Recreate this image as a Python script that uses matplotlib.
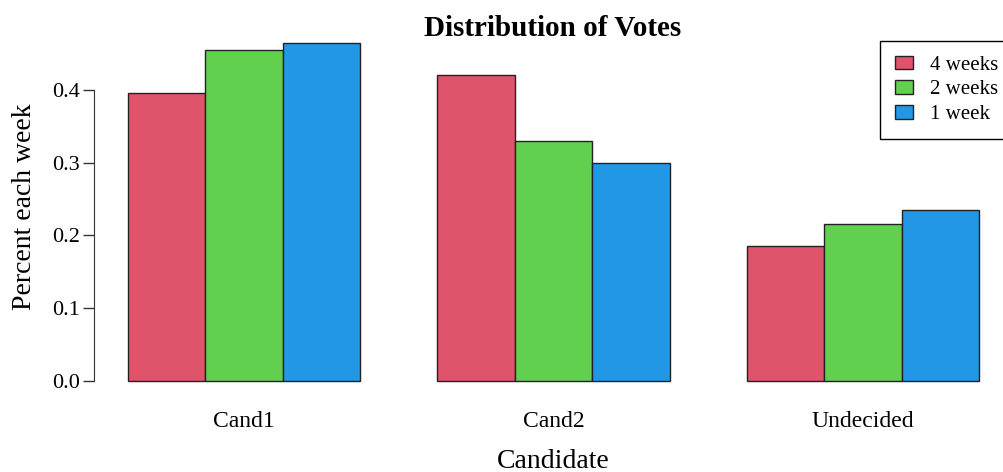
import numpy as np
import matplotlib
matplotlib.use("Agg")
import matplotlib.pyplot as plt

# data
candidates = ["Cand1", "Cand2", "Undecided"]
series_names = ["4 weeks", "2 weeks", "1 week"]
weeks4 = [0.395, 0.42, 0.185]
weeks2 = [0.455, 0.33, 0.215]
week1 = [0.465, 0.30, 0.235]
colors = ["#DF536B", "#61D04F", "#2297E6"]

plt.rcParams["font.family"] = ["Liberation Serif", "DejaVu Serif"]

W, H = 1004, 472
fig = plt.figure(figsize=(W / 100, H / 100), dpi=100)
# plot region in pixels (R style), right edge runs past the figure
left, right, top, bottom = 94, 1013, 29, 394.5
ax = fig.add_axes([left / W, 1 - bottom / H, (right - left) / W, (bottom - top) / H])

# R barplot(beside=TRUE) layout: bar width 1, one unit gap between groups
series = [weeks4, weeks2, week1]
group_starts = np.arange(len(candidates)) * 4 + 1
for i, (vals, name, col) in enumerate(zip(series, series_names, colors)):
    ax.bar(group_starts + i, vals, width=1, align="edge", color=col,
           edgecolor="#222222", linewidth=1, label=name)

ymax = max(max(s) for s in series)
ax.set_xlim(1 - 0.04 * 11, 12 + 0.04 * 11)
ax.set_ylim(-0.04 * ymax, ymax * 1.04)

for s in ["top", "right", "bottom"]:
    ax.spines[s].set_visible(False)
ax.spines["left"].set_bounds(0, 0.4)
ax.spines["left"].set_color("#333333")
ax.set_yticks([0.0, 0.1, 0.2, 0.3, 0.4])
ax.set_yticklabels(["0.0", "0.1", "0.2", "0.3", "0.4"])
ax.tick_params(axis="y", length=8, width=1, color="#333333", labelsize=16, pad=2)
ax.set_xticks(group_starts + 1.5)
ax.set_xticklabels(candidates)
ax.tick_params(axis="x", length=0, labelsize=17, pad=12)

ax.set_xlabel("Candidate", fontsize=20, va="center")
ax.xaxis.set_label_coords(553 / W, 1 - 461 / H, transform=fig.transFigure)
ax.set_ylabel("Percent each week", fontsize=20, va="center")
ax.yaxis.set_label_coords(25 / W, 1 - 207 / H, transform=fig.transFigure)
fig.text(553 / W, 1 - 28 / H, "Distribution of Votes", ha="center", va="center",
         fontsize=21, fontweight="bold")

ax.legend(loc="upper left", bbox_to_anchor=(880 / W, 1 - 41 / H),
          bbox_transform=fig.transFigure, fancybox=False, edgecolor="black",
          framealpha=1, fontsize=15, handlelength=0.9, handleheight=0.6,
          borderpad=0.7, labelspacing=0.28, handletextpad=0.8, borderaxespad=0)

fig.savefig("out.png", dpi=100)
